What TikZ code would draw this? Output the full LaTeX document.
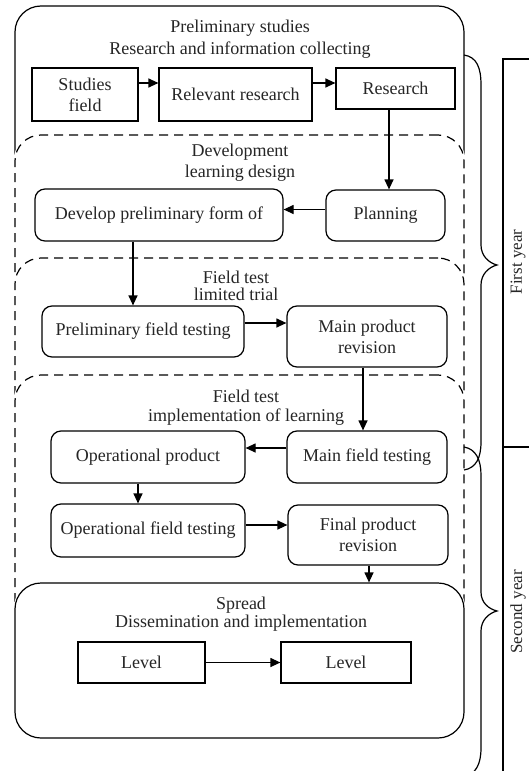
\documentclass[tikz,border=0pt]{standalone}
\usepackage{fontspec}
\setmainfont{Liberation Serif}
\usetikzlibrary{arrows.meta}
\begin{document}
\begin{tikzpicture}[x=1pt,y=-1pt,
  line width=1.2pt,
  every node/.style={font=\fontsize{18}{21}\selectfont, align=center, inner sep=2pt, text=black!85},
  sqbox/.style={draw, rectangle},
  rbox/.style={draw, rounded corners=10pt},
  bigsolid/.style={draw, rounded corners=26pt, preaction={draw=white, line width=3pt, fill=white, solid}},
  bigdash/.style={draw, dash pattern=on 9pt off 6pt, rounded corners=26pt, preaction={draw=white, line width=3pt, fill=white, solid}},
  arr/.style={-{Triangle[length=10pt,width=9pt]}},
  yearlabel/.style={rotate=90, font=\fontsize{17}{20}\selectfont},
  brace/.style={line width=1.2pt}
]
\useasboundingbox (0,0) rectangle (529,771);
\clip (0,0) rectangle (529,771);

% big stage boxes
\node[bigsolid, minimum width=449pt, minimum height=694pt] (prelim) at (239.5,353) {};
\node[bigdash, minimum width=449pt, minimum height=565pt] (devel) at (239.5,417.5) {};
\node[bigdash, minimum width=449pt, minimum height=442pt] (trial) at (239.5,479) {};
\node[bigdash, minimum width=449pt, minimum height=325pt] (impl) at (239.5,537.5) {};
\node[bigsolid, minimum width=449pt, minimum height=155pt] (spread) at (239.5,660.5) {};

% titles
\node (t1) at (240,39) {Preliminary studies\\[1pt]Research and information collecting};
\node (t2) at (240,162.5) {Development\\learning design};
\node (t3) at (236,285.5) {Field test\\[-4pt]limited trial};
\node (t4) at (246,407.5) {Field test\\[-2pt]implementation of learning};
\node (t5) at (241,614) {Spread\\[-3pt]Dissemination and implementation};

% step boxes
\node[sqbox, minimum width=106pt, minimum height=53pt] (studies) at (85,94.5) {Studies\\field};
\node[sqbox, minimum width=153pt, minimum height=53pt] (relevant) at (235.5,94.5) {Relevant research};
\node[sqbox, minimum width=119pt, minimum height=41pt] (research) at (395.5,88.5) {Research};

\node[rbox, minimum width=248pt, minimum height=52pt] (develop) at (159,215) {Develop preliminary form of};
\node[rbox, minimum width=119pt, minimum height=51pt] (planning) at (385.5,215.5) {Planning};

\node[rbox, minimum width=202pt, minimum height=51pt] (pft) at (143,331.5) {Preliminary field testing};
\node[rbox, minimum width=160pt, minimum height=61pt] (mpr) at (367,336.5) {Main product\\revision};

\node[rbox, minimum width=194pt, minimum height=52pt] (op) at (148,457) {Operational product};
\node[rbox, minimum width=160pt, minimum height=52pt] (mft) at (367,457) {Main field testing};

\node[rbox, minimum width=194pt, minimum height=53pt] (oft) at (148,530.5) {Operational field testing};
\node[rbox, minimum width=160pt, minimum height=60pt] (fpr) at (368,535) {Final product\\revision};

\node[sqbox, minimum width=127pt, minimum height=41pt] (lev1) at (141.5,662.5) {Level};
\node[sqbox, minimum width=130pt, minimum height=41pt] (lev2) at (346,662.5) {Level};

% connectors
\draw[arr] ([yshift=11.5pt]studies.east) -- ([yshift=11.5pt]studies.east -| relevant.west);
\draw[arr] ([yshift=11.5pt]relevant.east) -- ([yshift=11.5pt]relevant.east -| research.west);
\draw[arr] ([xshift=-6.5pt]research.south) -- ([xshift=-6.5pt]research.south |- planning.north);
\draw[arr] ([yshift=6pt]planning.west) -- ([yshift=6pt]planning.west -| develop.east);
\draw[arr] ([xshift=-26pt]develop.south) -- ([xshift=-26pt]develop.south |- pft.north);
\draw[arr] ([yshift=8.5pt]pft.east) -- ([yshift=8.5pt]pft.east -| mpr.west);
\draw[arr] ([xshift=-4pt]mpr.south) -- ([xshift=-4pt]mpr.south |- mft.north);
\draw[arr] ([yshift=9pt]mft.west) -- ([yshift=9pt]mft.west -| op.east);
\draw[arr] ([xshift=-10pt]op.south) -- ([xshift=-10pt]op.south |- oft.north);
\draw[arr] ([yshift=5.5pt]oft.east) -- ([yshift=5.5pt]oft.east -| fpr.west);
\draw[arr] ([xshift=1pt]fpr.south) -- ([xshift=1pt]fpr.south |- spread.north);
\draw[arr] (lev1.east) -- (lev2.west);

% braces
\draw[brace] (464,55) .. controls (477,57) and (481,68) .. (481,85)
  -- (481,245) .. controls (481,256) and (489,263) .. (497,265)
  .. controls (489,267) and (481,274) .. (481,285)
  -- (481,442) .. controls (481,458) and (476,468) .. (464,470);
\draw[brace] (464,447) .. controls (476,449) and (481,460) .. (481,475)
  -- (481,592) .. controls (481,603) and (489,609) .. (497,611)
  .. controls (489,613) and (481,620) .. (481,631)
  -- (481,748) .. controls (481,764) and (476,774) .. (464,777);

% year table
\draw (540,59) -- (503,59) -- (503,780);
\draw (503,447) -- (540,447);
\node[yearlabel] (y1) at (518,262) {First year};
\node[yearlabel] (y2) at (518,612) {Second year};
\end{tikzpicture}
\end{document}
